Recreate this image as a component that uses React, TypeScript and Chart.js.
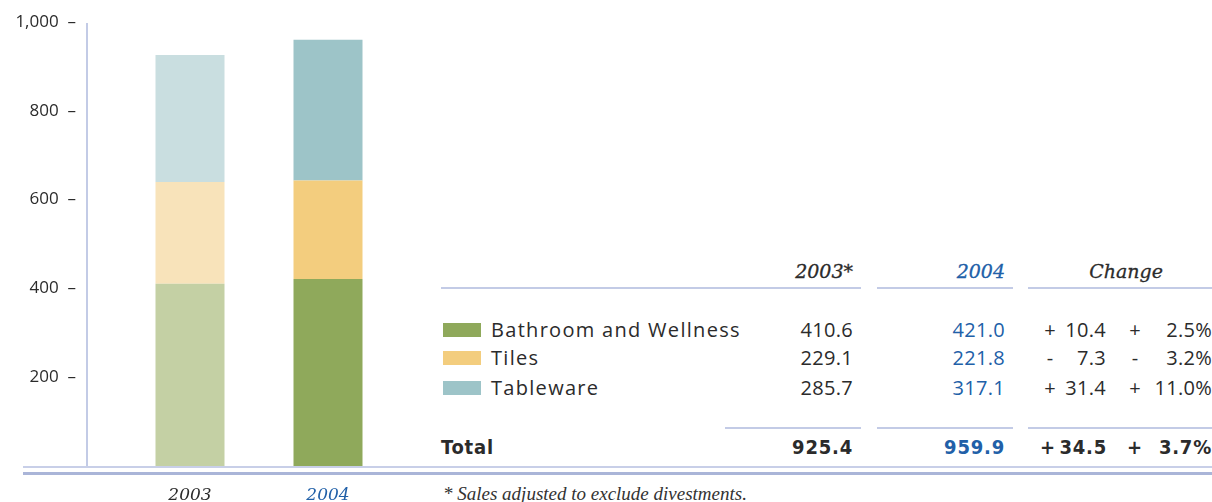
import React, { useEffect, useRef } from 'react';
import { Chart, registerables } from 'chart.js';

Chart.register(...registerables);

const years = ['2003', '2004'];
const tableYearHeads = ['2003*', '2004'];
const seriesNames = ['Bathroom and Wellness', 'Tiles', 'Tableware'];
const bathroom = [410.6, 421.0];
const tiles = [229.1, 221.8];
const tableware = [285.7, 317.1];
const totals = [925.4, 959.9];
const changeSign = ['+', '-', '+'];
const changeAbs = ['10.4', '7.3', '31.4'];
const changePctSign = ['+', '-', '+'];
const changePct = ['2.5%', '3.2%', '11.0%'];
const totalChangeAbs = '34.5';
const totalChangePct = '3.7%';
const yMax = 1000;
const yStep = 200;

const colors2003 = ['#c4d0a4', '#f8e3ba', '#c9dee0'];
const colors2004 = ['#8fa95b', '#f3cd7e', '#9dc4c8'];
const BLUE = '#2160a8';
const TEXT = '#2b2b2b';
const LINE = '#c3cbe6';

const seriesValues = [bathroom, tiles, tableware];

const SANS = "'Open Sans', sans-serif";
const SERIF_IT = "'DejaVu Serif', serif";

type TxtProps = {
  x: number;
  y: number;
  align?: 'left' | 'right' | 'center';
  style?: React.CSSProperties;
  children: React.ReactNode;
};

function Txt({ x, y, align = 'left', style, children }: TxtProps) {
  const lh = 28;
  const base: React.CSSProperties = {
    position: 'absolute',
    top: y - lh / 2,
    lineHeight: lh + 'px',
    height: lh,
    whiteSpace: 'nowrap',
    color: TEXT,
  };
  if (align === 'left') base.left = x;
  else if (align === 'right') base.right = 1212 - x;
  else {
    base.left = x - 150;
    base.width = 300;
    base.textAlign = 'center';
  }
  return <div style={{ ...base, ...style }}>{children}</div>;
}

function HLine({ x1, x2, y, h = 2, color = LINE }: { x1: number; x2: number; y: number; h?: number; color?: string }) {
  return <div style={{ position: 'absolute', left: x1, top: y, width: x2 - x1, height: h, background: color }} />;
}

export default function App() {
  const canvasRef = useRef<HTMLCanvasElement | null>(null);

  useEffect(() => {
    if (!canvasRef.current) return;
    const yAxisLine = {
      id: 'yAxisLine',
      afterDraw(chart: any) {
        const { ctx, chartArea, scales } = chart;
        const x = chartArea.left - 34;
        ctx.save();
        ctx.strokeStyle = LINE;
        ctx.lineWidth = 2;
        ctx.beginPath();
        ctx.moveTo(x, scales.y.getPixelForValue(yMax) + 1);
        ctx.lineTo(x, scales.y.getPixelForValue(0));
        ctx.stroke();
        ctx.restore();
      },
    };
    const chart = new Chart(canvasRef.current, {
      type: 'bar',
      data: {
        labels: years,
        datasets: seriesNames.map((name, i) => ({
          label: name,
          data: seriesValues[i],
          backgroundColor: [colors2003[i], colors2004[i]],
          borderWidth: 0,
          categoryPercentage: 1,
          barPercentage: 0.5,
        })),
      },
      options: {
        animation: false,
        responsive: false,
        devicePixelRatio: 1,
        layout: { padding: { top: 22, right: 33, bottom: 0, left: 0 } },
        plugins: { legend: { display: false }, tooltip: { enabled: false } },
        scales: {
          x: {
            stacked: true,
            grid: { display: false, drawTicks: true, tickLength: 19 },
            border: { display: false },
            afterFit: (s: any) => {
              s.height = 36;
            },
            ticks: {
              padding: 0,
              color: (c: any) => (c.index === 1 ? BLUE : TEXT),
              font: { family: SERIF_IT, style: 'italic', size: 17 },
            },
          },
          y: {
            stacked: true,
            min: 0,
            max: yMax,
            grid: { display: false, drawTicks: true, tickLength: 45 },
            border: { display: false },
            afterFit: (s: any) => {
              s.width = 121;
            },
            ticks: {
              stepSize: yStep,
              padding: 0,
              color: TEXT,
              font: { family: SANS, size: 17 },
              callback: (v: any) => (v === 0 ? '' : Number(v).toLocaleString('en-US') + '  \u2013'),
            },
          },
        },
      },
      plugins: [yAxisLine],
    });
    return () => chart.destroy();
  }, []);

  const rowY = [330, 358, 388];
  const labelFont: React.CSSProperties = { fontFamily: SANS, fontSize: 20, letterSpacing: '1.3px' };
  const numFont: React.CSSProperties = { fontFamily: SANS, fontSize: 20, letterSpacing: '0.3px' };
  const headFont: React.CSSProperties = { fontFamily: SERIF_IT, fontStyle: 'italic', fontSize: 19, WebkitTextStroke: '0.3px' };
  const totalFont: React.CSSProperties = {
    fontFamily: "'DejaVu Sans Condensed', 'DejaVu Sans', sans-serif",
    fontWeight: 'bold',
    fontSize: 20,
    letterSpacing: '0.8px',
  };

  return (
    <div style={{ position: 'absolute', left: 0, top: 0, width: 1212, height: 502, overflow: 'hidden', background: '#fff' }}>
      <canvas ref={canvasRef} width={430} height={502} style={{ position: 'absolute', left: 0, top: 0, width: 430, height: 502 }} />

      {/* bottom double rule */}
      <HLine x1={23} x2={1212} y={466} h={2} color="#c8cfe8" />
      <HLine x1={23} x2={1212} y={472} h={3} color="#aab5d8" />

      {/* header */}
      <Txt x={853} y={271} align="right" style={headFont}>{tableYearHeads[0]}</Txt>
      <Txt x={1005} y={271} align="right" style={{ ...headFont, color: BLUE }}>{tableYearHeads[1]}</Txt>
      <Txt x={1126} y={271} align="center" style={headFont}>Change</Txt>
      <HLine x1={441} x2={861} y={287} />
      <HLine x1={877} x2={1013} y={287} />
      <HLine x1={1028} x2={1212} y={287} />

      {/* rows */}
      {seriesNames.map((name, i) => (
        <React.Fragment key={name}>
          <div style={{ position: 'absolute', left: 443, top: rowY[i] - 7, width: 38, height: 14, background: colors2004[i] }} />
          <Txt x={491} y={rowY[i]} style={labelFont}>{name}</Txt>
          <Txt x={853} y={rowY[i]} align="right" style={numFont}>{seriesValues[i][0].toFixed(1)}</Txt>
          <Txt x={1005} y={rowY[i]} align="right" style={{ ...numFont, color: BLUE }}>{seriesValues[i][1].toFixed(1)}</Txt>
          <Txt x={1050} y={rowY[i]} align="center" style={numFont}>{changeSign[i]}</Txt>
          <Txt x={1106} y={rowY[i]} align="right" style={numFont}>{changeAbs[i]}</Txt>
          <Txt x={1135} y={rowY[i]} align="center" style={numFont}>{changePctSign[i]}</Txt>
          <Txt x={1212} y={rowY[i]} align="right" style={numFont}>{changePct[i]}</Txt>
        </React.Fragment>
      ))}

      {/* total */}
      <HLine x1={725} x2={861} y={427} />
      <HLine x1={877} x2={1013} y={427} />
      <HLine x1={1028} x2={1212} y={427} />
      <Txt x={441} y={447} style={totalFont}>Total</Txt>
      <Txt x={853} y={447} align="right" style={totalFont}>{totals[0].toFixed(1)}</Txt>
      <Txt x={1005} y={447} align="right" style={{ ...totalFont, color: BLUE }}>{totals[1].toFixed(1)}</Txt>
      <Txt x={1048} y={447} align="center" style={totalFont}>+</Txt>
      <Txt x={1107} y={447} align="right" style={totalFont}>{totalChangeAbs}</Txt>
      <Txt x={1135} y={447} align="center" style={totalFont}>+</Txt>
      <Txt x={1212} y={447} align="right" style={totalFont}>{totalChangePct}</Txt>

      {/* footnote */}
      <Txt x={443} y={494} style={{ fontFamily: "'Liberation Serif', serif", fontStyle: 'italic', fontSize: 19, color: '#333' }}>
        * Sales adjusted to exclude divestments.
      </Txt>
    </div>
  );
}
